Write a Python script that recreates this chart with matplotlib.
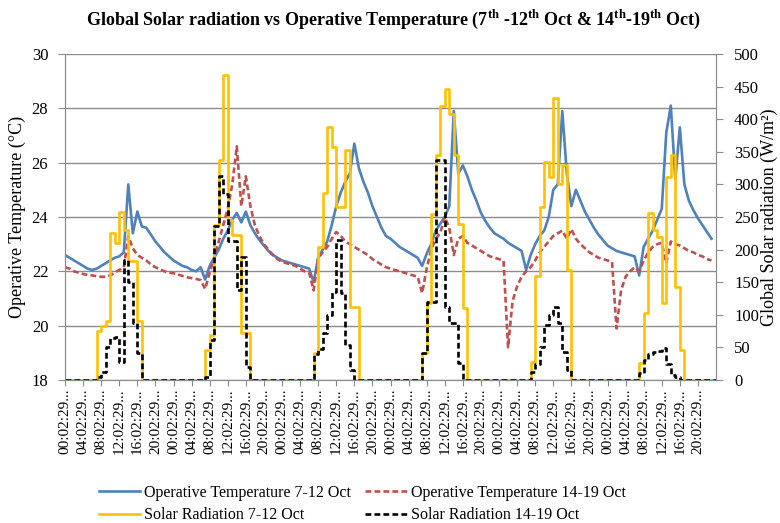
import numpy as np
import matplotlib
matplotlib.use("Agg")
import matplotlib.pyplot as plt

plt.rcParams["font.family"] = ["Liberation Serif", "DejaVu Serif"]
plt.rcParams["mathtext.fontset"] = "custom"
plt.rcParams["mathtext.rm"] = "Liberation Serif"
plt.rcParams["mathtext.bf"] = "Liberation Serif:bold"

# hourly operative temperature (degC), one row per day
temp_7_12 = [
    22.6, 22.5, 22.4, 22.3, 22.2, 22.1, 22.05, 22.1, 22.2, 22.3, 22.4, 22.5, 22.55, 22.7, 25.2, 23.4, 24.2, 23.65, 23.6, 23.35, 23.1, 22.9, 22.7, 22.55,
    22.4, 22.3, 22.2, 22.15, 22.05, 22.0, 22.15, 21.7, 22.2, 22.5, 22.8, 23.2, 23.5, 23.9, 24.15, 23.8, 24.2, 23.7, 23.4, 23.15, 22.95, 22.75, 22.6, 22.5,
    22.4, 22.35, 22.3, 22.25, 22.2, 22.15, 22.1, 21.6, 22.5, 22.8, 23.1, 23.7, 24.4, 24.9, 25.3, 25.6, 26.7, 25.8, 25.3, 24.9, 24.4, 24.0, 23.6, 23.3,
    23.2, 23.05, 22.9, 22.8, 22.7, 22.6, 22.5, 22.2, 22.65, 23.0, 23.5, 23.75, 24.0, 24.4, 27.9, 25.6, 25.9, 25.5, 25.0, 24.6, 24.15, 23.85, 23.6, 23.4,
    23.3, 23.2, 23.05, 22.95, 22.85, 22.75, 22.05, 22.6, 23.0, 23.3, 23.5, 24.0, 25.0, 25.2, 27.9, 25.6, 24.4, 25.0, 24.6, 24.2, 23.9, 23.6, 23.35, 23.15,
    22.95, 22.85, 22.75, 22.7, 22.65, 22.6, 22.55, 21.85, 22.9, 23.2, 23.5, 23.9, 24.3, 27.1, 28.1, 25.4, 27.3, 25.2, 24.6, 24.25, 23.95, 23.7, 23.45, 23.2,
]
temp_14_19 = [
    22.15, 22.1, 22.0, 21.95, 21.9, 21.87, 21.85, 21.82, 21.8, 21.8, 21.85, 21.95, 22.05, 22.15, 23.3, 22.85, 22.6, 22.5, 22.4, 22.25, 22.15, 22.08, 22.0, 21.95,
    21.93, 21.88, 21.83, 21.78, 21.75, 21.72, 21.68, 21.35, 21.95, 22.5, 23.1, 23.7, 24.3, 25.2, 26.6, 24.4, 25.5, 24.4, 23.7, 23.3, 23.0, 22.8, 22.6, 22.45,
    22.35, 22.3, 22.25, 22.2, 22.1, 22.0, 21.95, 21.3, 22.5, 22.7, 22.9, 23.2, 23.45, 23.3, 23.1, 23.0, 22.9, 22.8, 22.7, 22.6, 22.45, 22.35, 22.25, 22.15,
    22.1, 22.05, 22.0, 21.95, 21.9, 21.85, 21.8, 21.2, 22.1, 22.8, 23.2, 23.4, 24.0, 23.6, 22.6, 23.2, 23.3, 23.05, 22.95, 22.85, 22.75, 22.65, 22.55, 22.5,
    22.45, 22.4, 19.2, 20.9, 21.45, 21.8, 22.0, 22.15, 22.4, 22.7, 22.9, 23.1, 23.3, 23.4, 23.5, 23.2, 23.55, 23.2, 23.0, 22.85, 22.7, 22.6, 22.5, 22.45,
    22.4, 22.35, 19.9, 21.3, 21.8, 22.0, 22.15, 22.0, 22.4, 22.7, 22.9, 23.0, 23.05, 22.3, 23.1, 23.0, 22.95, 22.85, 22.75, 22.7, 22.6, 22.55, 22.45, 22.4,
]

# hourly global solar radiation (W/m2) for hours 07..16 of each day, zero otherwise
sun_hours = [7, 8, 9, 10, 11, 12, 13, 14, 15, 16]
solar_7_12_days = [
    [75, 83, 90, 225, 210, 258, 230, 182, 182, 90],
    [46, 69, 238, 337, 468, 245, 222, 222, 72, 72],
    [41, 204, 287, 388, 358, 266, 266, 353, 112, 112],
    [41, 118, 255, 345, 420, 446, 408, 345, 240, 110],
    [28, 160, 265, 335, 312, 432, 300, 330, 169, 0],
    [26, 103, 256, 230, 220, 118, 312, 345, 143, 46],
]
solar_14_19_days = [
    [5, 13, 50, 64, 66, 28, 184, 150, 87, 41],
    [5, 62, 236, 313, 286, 213, 213, 138, 189, 20],
    [40, 48, 72, 100, 135, 215, 133, 54, 15, 0],
    [41, 120, 120, 337, 337, 112, 87, 87, 26, 0],
    [12, 25, 50, 85, 100, 112, 87, 43, 15, 0],
    [10, 30, 40, 43, 45, 49, 25, 8, 5, 0],
]

tick_hours = list(range(0, 144, 4))
tick_labels = ["%02d:02:29..." % (h % 24) for h in tick_hours]


def full_day_series(days):
    out = np.zeros(24 * len(days))
    for d, vals in enumerate(days):
        for h, v in zip(sun_hours, vals):
            out[24 * d + h] = v
    return out


solar_7_12 = full_day_series(solar_7_12_days)
solar_14_19 = full_day_series(solar_14_19_days)
hours = np.arange(len(temp_7_12))
step_x = np.arange(len(solar_7_12) + 1)

c_blue = "#4f81bd"
c_red = "#c0504d"
c_gold = "#ffc000"
grid_c = "#8c8c8c"
lw = 1.9

fig = plt.figure(figsize=(7.8, 5.23), dpi=100)
ax = fig.add_axes([65 / 780, 1 - 380 / 523, 651 / 780, 326 / 523])
ax2 = ax.twinx()

l1, = ax.plot(hours, temp_7_12, color=c_blue, lw=lw, label="Operative Temperature 7-12 Oct")
l2, = ax.plot(hours, temp_14_19, color=c_red, lw=lw, dashes=(2.2, 1.2),
              label="Operative Temperature 14-19 Oct")
l3, = ax2.step(step_x, np.append(solar_7_12, solar_7_12[-1]), where="post",
               color=c_gold, lw=lw, label="Solar Radiation 7-12 Oct")
l4, = ax2.step(step_x, np.append(solar_14_19, solar_14_19[-1]), where="post",
               color="black", lw=lw, dashes=(2.2, 1.2), label="Solar Radiation 14-19 Oct")

ax.set_xlim(0, 144)
ax.set_ylim(18, 30)
ax.set_yticks(range(18, 31, 2))
ax2.set_ylim(0, 500)
ax2.set_yticks(range(0, 501, 50))
ax.yaxis.grid(True, color=grid_c, lw=1.0)
ax.set_axisbelow(True)

ax.set_xticks(tick_hours)
ax.set_xticklabels(tick_labels, rotation=90, fontsize=11)
ax.tick_params(axis="x", length=4, color=grid_c, pad=2)
ax.tick_params(axis="y", length=5, color=grid_c, labelsize=12, pad=7)
ax2.tick_params(axis="y", length=5, color=grid_c, labelsize=12, pad=8)

for a in (ax, ax2):
    a.spines["top"].set_visible(False)
    for s in ("left", "right", "bottom"):
        a.spines[s].set_color(grid_c)

ax.set_ylabel("Operative Temperature (°C)", fontsize=13)
ax.yaxis.set_label_coords(-0.06, 0.5)
ax2.set_ylabel("Global Solar radiation (W/m²)", fontsize=13)
ax2.yaxis.set_label_coords(1.068, 0.5)

fig.text(0.505, 0.962,
         r"Global Solar radiation vs Operative Temperature (7$^{\mathbf{th}}$ -12$^{\mathbf{th}}$ Oct & 14$^{\mathbf{th}}$-19$^{\mathbf{th}}$ Oct)",
         ha="center", va="center", fontsize=13, fontweight="bold")

fig.legend(handles=[l1, l3, l2, l4], ncol=2, frameon=False, fontsize=11.5,
           loc="lower left", bbox_to_anchor=(0.108, -0.028), handlelength=2.6,
           handletextpad=0.25, columnspacing=0.9, labelspacing=0.4)

fig.savefig("out.png", dpi=100)
